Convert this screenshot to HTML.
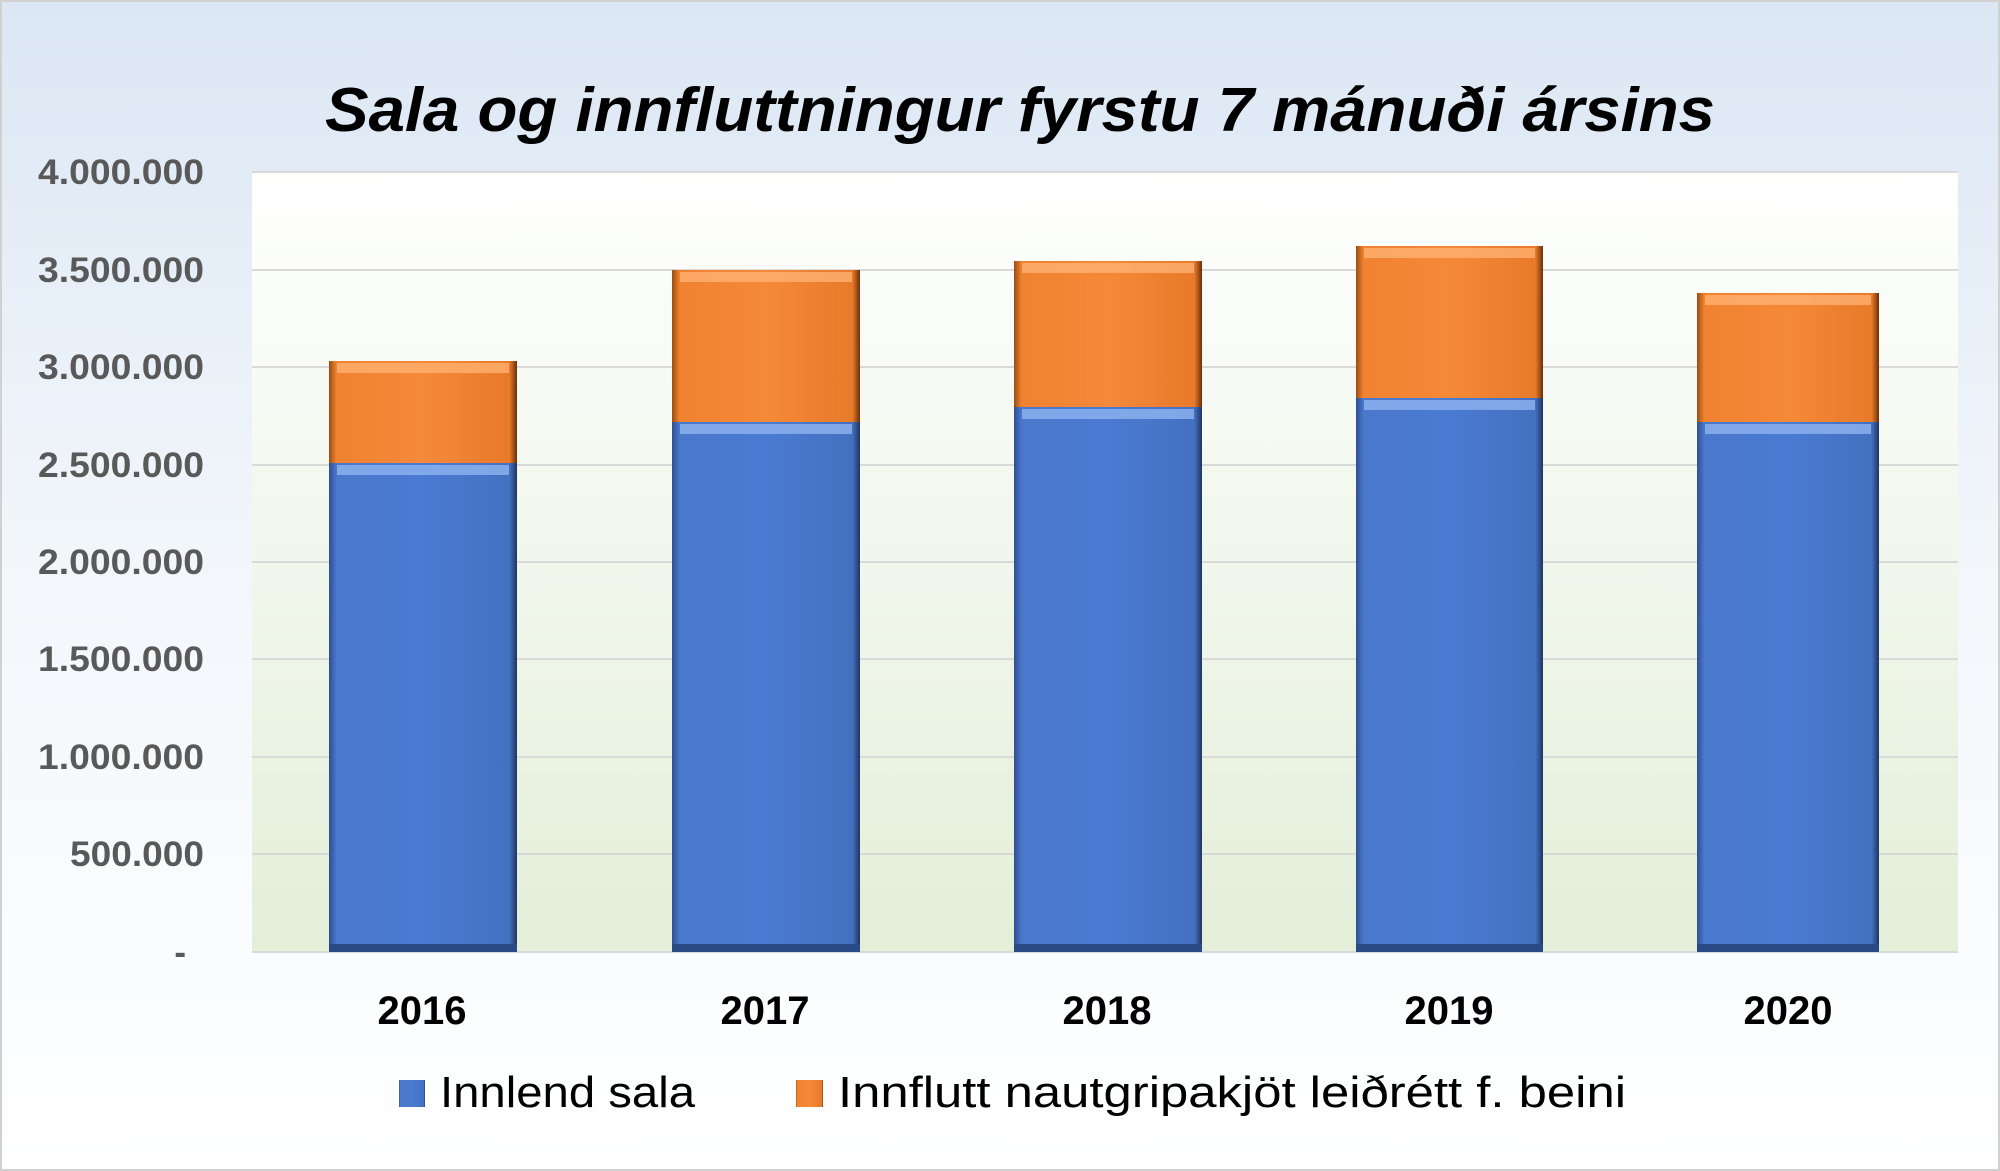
<!DOCTYPE html>
<html><head><meta charset="utf-8"><style>
html,body{margin:0;padding:0;width:2000px;height:1171px;overflow:hidden;}
svg{display:block;font-family:"Liberation Sans",sans-serif;}
</style></head><body>
<svg width="2000" height="1171" viewBox="0 0 2000 1171">
<defs>
<linearGradient id="bg" x1="0" y1="0" x2="0" y2="1">
<stop offset="0" stop-color="#dbe7f4"/><stop offset="0.5" stop-color="#f3f7fb"/><stop offset="1" stop-color="#ffffff"/>
</linearGradient>
<linearGradient id="pa" x1="0" y1="0" x2="0" y2="1">
<stop offset="0" stop-color="#ffffff"/><stop offset="1" stop-color="#e3efd9"/>
</linearGradient>
<linearGradient id="bl" x1="0" y1="0" x2="1" y2="0">
<stop offset="0" stop-color="#2f4f8f"/><stop offset="0.04" stop-color="#4a78cc"/><stop offset="0.5" stop-color="#4a7bd2"/><stop offset="0.96" stop-color="#4470c0"/><stop offset="1" stop-color="#1f3461"/>
</linearGradient>
<linearGradient id="or" x1="0" y1="0" x2="1" y2="0">
<stop offset="0" stop-color="#9a4d12"/><stop offset="0.04" stop-color="#f08230"/><stop offset="0.5" stop-color="#f5893a"/><stop offset="0.96" stop-color="#e87a2a"/><stop offset="1" stop-color="#6b3008"/>
</linearGradient>
</defs>
<rect x="0" y="0" width="2000" height="1171" fill="url(#bg)"/>
<rect x="1" y="1" width="1998" height="1169" fill="none" stroke="#d0d0d0" stroke-width="2"/>
<text x="1020" y="131" text-anchor="middle" font-size="62" font-weight="bold" font-style="italic" fill="#000" textLength="1390" lengthAdjust="spacingAndGlyphs">Sala og innfluttningur fyrstu 7 mánuði ársins</text>
<rect x="252" y="172" width="1706" height="780" fill="url(#pa)"/>
<g stroke="#d9d9d9" stroke-width="2">
<line x1="252" x2="1958" y1="172" y2="172"/><line x1="252" x2="1958" y1="270" y2="270"/>
<line x1="252" x2="1958" y1="367" y2="367"/><line x1="252" x2="1958" y1="465" y2="465"/>
<line x1="252" x2="1958" y1="562" y2="562"/><line x1="252" x2="1958" y1="659" y2="659"/>
<line x1="252" x2="1958" y1="757" y2="757"/><line x1="252" x2="1958" y1="854" y2="854"/>
<line x1="252" x2="1958" y1="952" y2="952"/>
</g>
<g font-size="35" font-weight="bold" fill="#595959" text-anchor="end">
<text x="204" y="184" textLength="166" lengthAdjust="spacingAndGlyphs">4.000.000</text><text x="204" y="282" textLength="166" lengthAdjust="spacingAndGlyphs">3.500.000</text>
<text x="204" y="379" textLength="166" lengthAdjust="spacingAndGlyphs">3.000.000</text><text x="204" y="477" textLength="166" lengthAdjust="spacingAndGlyphs">2.500.000</text>
<text x="204" y="574" textLength="166" lengthAdjust="spacingAndGlyphs">2.000.000</text><text x="204" y="671" textLength="166" lengthAdjust="spacingAndGlyphs">1.500.000</text>
<text x="204" y="769" textLength="166" lengthAdjust="spacingAndGlyphs">1.000.000</text><text x="204" y="866" textLength="134" lengthAdjust="spacingAndGlyphs">500.000</text>
<text x="186" y="964">-</text>
</g>
<g>
<rect x="329" y="463" width="188" height="489" fill="url(#bl)"/><rect x="329" y="361" width="188" height="102" fill="url(#or)"/>
<rect x="672" y="422" width="188" height="530" fill="url(#bl)"/><rect x="672" y="270" width="188" height="152" fill="url(#or)"/>
<rect x="1014" y="407" width="188" height="545" fill="url(#bl)"/><rect x="1014" y="261" width="188" height="146" fill="url(#or)"/>
<rect x="1356" y="398" width="187" height="554" fill="url(#bl)"/><rect x="1356" y="246" width="187" height="152" fill="url(#or)"/>
<rect x="1697" y="422" width="182" height="530" fill="url(#bl)"/><rect x="1697" y="293" width="182" height="129" fill="url(#or)"/>
</g>
<g fill="#8fb4f0" opacity="0.8">
<rect x="337" y="465" width="172" height="10"/><rect x="680" y="424" width="172" height="10"/>
<rect x="1022" y="409" width="172" height="10"/><rect x="1364" y="400" width="171" height="10"/>
<rect x="1705" y="424" width="166" height="10"/>
</g>
<g fill="#ffb070" opacity="0.8">
<rect x="337" y="363" width="172" height="10"/><rect x="680" y="272" width="172" height="10"/>
<rect x="1022" y="263" width="172" height="10"/><rect x="1364" y="248" width="171" height="10"/>
<rect x="1705" y="295" width="166" height="10"/>
</g>
<g fill="#2a4a85"><rect x="329" y="944" width="188" height="8"/><rect x="672" y="944" width="188" height="8"/><rect x="1014" y="944" width="188" height="8"/><rect x="1356" y="944" width="187" height="8"/><rect x="1697" y="944" width="182" height="8"/></g>
<g font-size="40" font-weight="bold" fill="#000" text-anchor="middle">
<text x="422" y="1024">2016</text><text x="765" y="1024">2017</text><text x="1107" y="1024">2018</text><text x="1449" y="1024">2019</text><text x="1788" y="1024">2020</text>
</g>
<rect x="399" y="1080" width="26" height="27" fill="url(#bl)"/>
<rect x="796" y="1080" width="27" height="27" fill="url(#or)"/>
<g font-size="44" fill="#000">
<text x="440" y="1107" textLength="255" lengthAdjust="spacingAndGlyphs">Innlend sala</text>
<text x="838" y="1107" textLength="788" lengthAdjust="spacingAndGlyphs">Innflutt nautgripakjöt leiðrétt f. beini</text>
</g>
</svg>
</body></html>
